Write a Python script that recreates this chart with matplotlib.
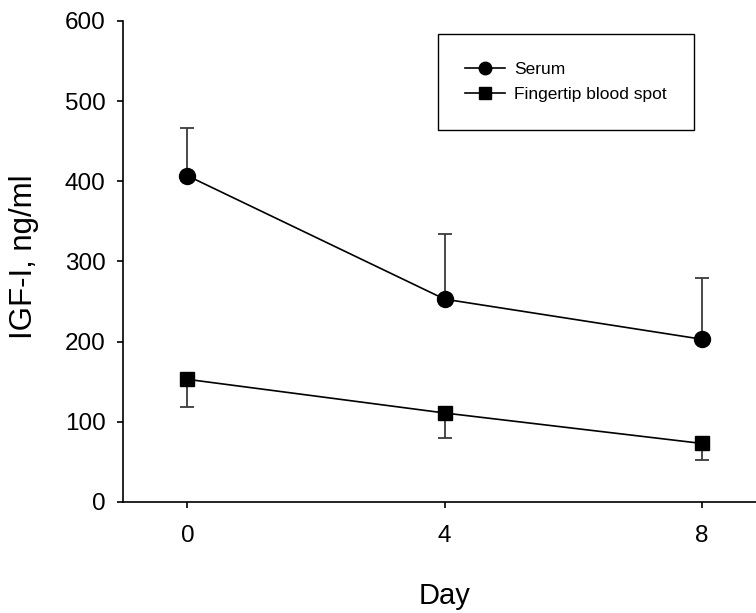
import numpy as np
import matplotlib
matplotlib.use('Agg')
import matplotlib.pyplot as plt

plt.rcParams['font.family'] = ['Liberation Sans', 'DejaVu Sans']

# IGF-I over the study period (mean, SD)
days = [0, 4, 8]
serum_mean = [407, 253, 203]
serum_sd = [60, 81, 77]
spot_mean = [153, 111, 73]
spot_sd = [34, 31, 21]
series_labels = ['Serum', 'Fingertip blood spot']

fig = plt.figure(figsize=(7.56, 6.13), dpi=100)
fig.patch.set_facecolor('white')
ax = fig.add_axes([0.1627, 0.1811, 0.8509, 0.7847])

zeros = np.zeros(len(days))
# serum: upper bars only, blood spot: lower bars only
ax.errorbar(days, serum_mean, yerr=[zeros, serum_sd], fmt='none',
            ecolor='#3a3a3a', elinewidth=1.3, capsize=4.7, capthick=1.3, zorder=2)
ax.errorbar(days, spot_mean, yerr=[spot_sd, zeros], fmt='none',
            ecolor='#3a3a3a', elinewidth=1.3, capsize=4.7, capthick=1.3, zorder=2)

ax.plot(days, serum_mean, color='black', lw=1.2, marker='o', markersize=11.5,
        markerfacecolor='black', markeredgecolor='black', label=series_labels[0], zorder=3)
ax.plot(days, spot_mean, color='black', lw=1.2, marker='s', markersize=9.5,
        markerfacecolor='black', markeredgecolor='black', label=series_labels[1], zorder=3)

ax.set_xlim(-1, 9)
ax.set_ylim(0, 600)
ax.set_xticks(days)
ax.set_yticks(np.arange(0, 601, 100))

for side in ['top', 'right']:
    ax.spines[side].set_visible(False)
for side in ['left', 'bottom']:
    ax.spines[side].set_linewidth(1.2)
    ax.spines[side].set_color('black')

ax.tick_params(axis='both', direction='out', length=4.5, width=1.2, labelsize=17.5, colors='black')
ax.tick_params(axis='x', pad=12)
ax.tick_params(axis='y', pad=8)

ax.set_xlabel('Day', fontsize=21, va='center')
ax.xaxis.set_label_coords(0.5, -0.195)
ax.set_ylabel('IGF-I, ng/ml', fontsize=22.5, va='center')
ax.yaxis.set_label_coords(-0.154, 0.509)

leg = ax.legend(loc='upper left', bbox_to_anchor=(0.489, 0.973), fontsize=12.5,
                frameon=True, fancybox=False, framealpha=1, edgecolor='black',
                borderpad=1.6, handlelength=2.3, handletextpad=0.5,
                labelspacing=0.6, borderaxespad=0)
leg.get_frame().set_linewidth(1.0)
for h in leg.legend_handles:
    h.set_markersize(9)

fig.savefig('out.png', dpi=100)
